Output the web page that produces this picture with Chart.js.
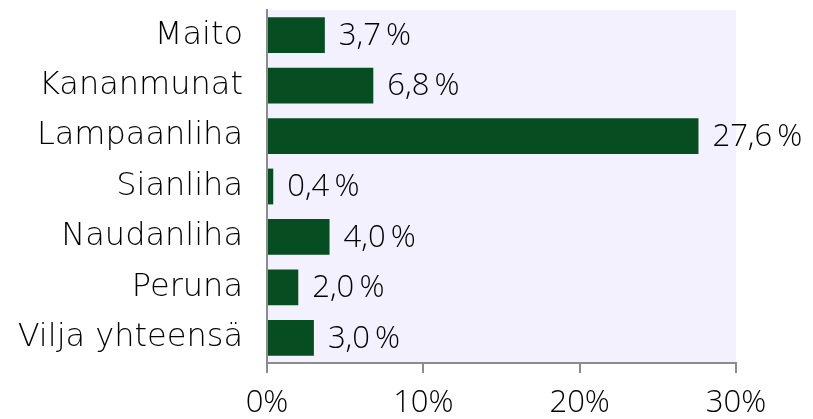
<!DOCTYPE html>
<html>
<head>
<meta charset="utf-8">
<script src="https://cdn.jsdelivr.net/npm/chart.js@4"></script>
<style>
  html, body { margin: 0; padding: 0; background: #ffffff; }
  #wrap { width: 813px; height: 419px; }
</style>
</head>
<body>
<div id="wrap"><canvas id="chart" width="813" height="419"></canvas></div>
<script>
// data (percent)
const categories = ['Maito', 'Kananmunat', 'Lampaanliha', 'Sianliha', 'Naudanliha', 'Peruna', 'Vilja yhteensä'];
const shares = [3.7, 6.8, 27.6, 0.4, 4.0, 2.0, 3.0];
const xTicks = [0, 10, 20, 30];

const CAT_FONT = '"DejaVu Sans", sans-serif';
const NUM_FONT = '"Open Sans", sans-serif';
const BAR_COLOR = '#074d22';
const PLOT_BG = '#f3f1fd';

// lavender plot background
const plotBg = {
    id: 'plotBg',
    beforeDraw(chart) {
        const { ctx, chartArea: a } = chart;
        ctx.save();
        ctx.fillStyle = PLOT_BG;
        ctx.fillRect(a.left, a.top, a.right - a.left, a.bottom - a.top);
        ctx.restore();
    }
};

// value labels at bar ends, "3,7 %"
const valueLabels = {
    id: 'valueLabels',
    afterDatasetsDraw(chart) {
        const { ctx } = chart;
        const meta = chart.getDatasetMeta(0);
        ctx.save();
        ctx.font = '300 31px ' + NUM_FONT;
        ctx.fillStyle = '#000';
        ctx.textBaseline = 'middle';
        ctx.textAlign = 'left';
        meta.data.forEach((bar, i) => {
            const txt = shares[i].toFixed(1).replace('.', ',') + '\u2009%';
            ctx.fillText(txt, bar.x + 14, bar.y + 1);
        });
        ctx.restore();
    }
};

new Chart(document.getElementById('chart'), {
    type: 'bar',
    data: {
        labels: categories,
        datasets: [{
            data: shares,
            backgroundColor: BAR_COLOR,
            borderWidth: 0,
            categoryPercentage: 1,
            barPercentage: 0.71
        }]
    },
    options: {
        indexAxis: 'y',
        responsive: false,
        animation: false,
        layout: { padding: { top: 10, right: 77, left: 0, bottom: 0 } },
        plugins: { legend: { display: false }, tooltip: { enabled: false } },
        scales: {
            x: {
                min: 0,
                max: 30,
                afterBuildTicks: s => { s.ticks = xTicks.map(v => ({ value: v })); },
                afterFit: s => { s.height = 56; s.paddingLeft = 0; s.paddingRight = 0; },
                ticks: {
                    color: '#000',
                    font: { family: NUM_FONT, size: 31, weight: 300 },
                    padding: 12,
                    callback: v => v + '%'
                },
                grid: { drawOnChartArea: false, drawTicks: true, tickLength: 10, color: '#8c8c8c', lineWidth: 2 },
                border: { color: '#8c8c8c', width: 2 }
            },
            y: {
                afterFit: s => { s.width = 267; s.paddingTop = 0; s.paddingBottom = 0; },
                ticks: {
                    color: '#000',
                    font: { family: CAT_FONT, size: 32, weight: 200 },
                    padding: 16
                },
                grid: { display: false },
                border: { color: '#8c8c8c', width: 2 }
            }
        }
    },
    plugins: [plotBg, valueLabels]
});
</script>
</body>
</html>
